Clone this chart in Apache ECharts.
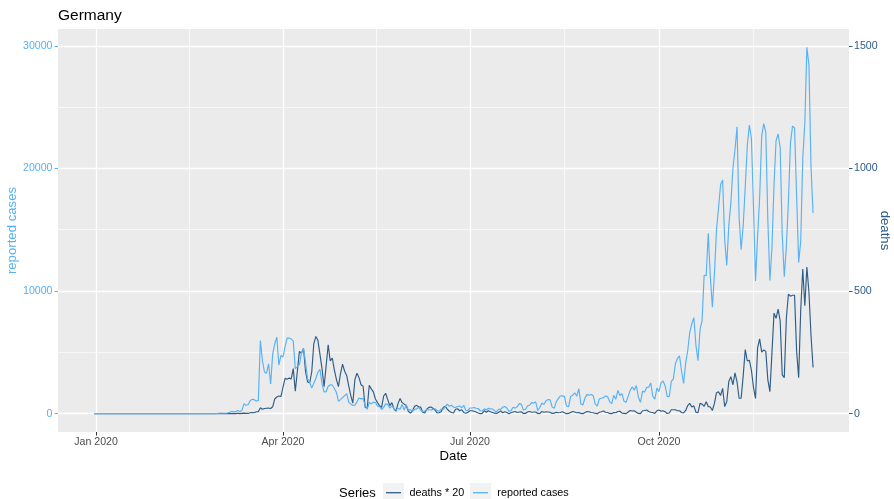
<!DOCTYPE html>
<html><head><meta charset="utf-8">
<script src="https://cdn.jsdelivr.net/npm/echarts@6/dist/echarts.min.js"></script>
<style>html,body{margin:0;padding:0;background:#fff}#c{width:894px;height:499px}</style>
</head><body><div id="c"></div>
<script>
// ---- data: daily values; the chart's dates run from 2019-12-31 (two leading zero days, then
//      the monthly blocks below, each value plotted the day after its report day) ----
const startDate = '2019-12-31';
const casesLead = [0,0];
const casesJan = [0,0,0,0,0,0,0,0,0,0,0,0,0,0,0,0,0,0,0,0,0,0,0,0,0,0,1,3,0,0,1];
const casesFeb = [2,0,2,1,0,2,1,0,0,0,0,0,0,0,0,0,0,0,0,0,0,0,0,0,2,8,10,21,33];
const casesMar = [56,33,38,52,109,185,150,163,265,157,271,802,693,733,1043,1174,1144,1042,1060,5965,4330,3380,3300,4060,2420,4880,5700,6240,3965,4751,4615];
const casesApr = [5453,6156,6174,6082,5936,3677,3834,4003,4974,5323,4133,2821,2537,2082,2486,2866,3380,3609,2458,1775,1785,2237,2352,2337,2055,1737,1018,1144,1304,1478];
const casesMay = [1639,945,793,679,685,947,1284,1209,1251,667,357,933,798,933,913,620,583,342,513,797,745,460,638,431,289,432,353,741,286,738,301];
const casesJun = [333,213,342,394,507,301,136,214,350,318,300,348,407,247,192,378,345,580,770,601,687,537,503,587,630,477,687,256,262,466];
const casesJul = [466,503,446,422,239,219,397,298,442,395,378,248,159,352,351,534,583,454,202,249,522,454,569,815,781,305,340,633,684,902,870];
const casesAug = [955,240,509,879,741,1045,1147,1122,555,436,966,1226,1445,1449,1415,625,561,1390,1510,1707,1427,2034,782,711,1278,1576,1507,1571,1479,785,610];
const casesSep = [1218,1256,1311,1453,1378,988,814,1499,1176,1892,1484,1630,1010,927,1407,1901,2194,1916,2297,1345,922,1821,1769,2143,2153,2507,1411,1192,2089,1798];
const casesOct = [2503,2673,2279,1410,1382,2639,2828,4058,4516,4721,3483,2467,4122,5132,6638,7334,7830,5587,4325,6868,7595,11287,11242,14714,11176,8685,11409,14964,16774,18681,19059];
const casesNov = [14177,12097,15352,17214,19990,21506,23399,16017,13363,15332,18487,21866,23542,22461,16947,10824,14419,17561,22609,23648,22964,15741,10864,13554,18633,22268,22806,21695,14611,11169];
const casesDec = [13604,17270,22046,23449,23318,17767,12332,14054,20815,23679,29875,28438,20200,16362];

const deathsLead = [0,0];
const deathsJan = [0,0,0,0,0,0,0,0,0,0,0,0,0,0,0,0,0,0,0,0,0,0,0,0,0,0,0,0,0,0,0];
const deathsFeb = [0,0,0,0,0,0,0,0,0,0,0,0,0,0,0,0,0,0,0,0,0,0,0,0,0,0,0,0,0];
const deathsMar = [0,0,0,0,0,0,0,0,2,0,1,2,1,1,4,5,4,8,8,24,18,21,22,23,21,28,60,68,72,70,107];
const deathsApr = [144,140,145,141,184,92,173,254,246,266,171,129,126,170,285,315,299,242,184,110,194,281,215,227,179,140,110,163,202,173];
const deathsMay = [156,113,74,43,139,165,147,118,112,26,22,116,101,89,60,45,33,26,72,83,57,33,45,20,10,41,62,45,39,33,10];
const deathsJun = [2,11,29,34,28,27,6,3,18,26,27,22,15,3,4,8,25,30,18,10,5,3,18,20,12,16,5,2,6,12];
const deathsJul = [12,10,7,3,0,1,12,6,12,8,5,2,1,6,11,4,8,5,0,4,7,9,5,7,8,1,1,7,9,6,7];
const deathsAug = [7,1,0,9,6,8,7,6,1,2,6,4,5,8,4,0,1,5,9,7,4,5,1,0,5,9,8,5,4,1,0];
const deathsSep = [6,8,11,6,5,1,0,5,4,9,10,2,1,0,7,13,11,12,6,1,0,12,13,15,9,6,5,1,12,15];
const deathsOct = [10,12,8,1,3,16,16,16,12,12,5,3,13,33,42,27,32,6,4,42,39,30,49,29,27,13,42,85,89,74,103];
const deathsNov = [29,49,131,151,118,166,130,63,63,154,261,215,218,178,107,62,267,305,251,260,254,138,90,249,410,389,426,379,158,147];
const deathsDec = [388,487,479,483,483,255,147,423,590,440,598,496,321,188];

const xTickDates = ['2020-01-01','2020-04-01','2020-07-01','2020-10-01'];
const xTickLabels = ['Jan 2020','Apr 2020','Jul 2020','Oct 2020'];
const xNextBreak = '2021-01-01';
const casesTicks = [0,10000,20000,30000];
const casesMinorTicks = [5000,15000,25000];
const deathsTicks = [0,500,1000,1500];
const deathsScale = 20;

// ---- build ----
const cases = [].concat(casesLead,casesJan,casesFeb,casesMar,casesApr,casesMay,casesJun,casesJul,casesAug,casesSep,casesOct,casesNov,casesDec);
const deaths = [].concat(deathsLead,deathsJan,deathsFeb,deathsMar,deathsApr,deathsMay,deathsJun,deathsJul,deathsAug,deathsSep,deathsOct,deathsNov,deathsDec);
const DAY = 86400000;
const toMs = s => Date.parse(s + 'T00:00:00Z');
const t0 = toMs(startDate);
const times = cases.map((_, i) => t0 + i * DAY);
const xPad = 0.05 * (times[times.length - 1] - times[0]);
const xMin = times[0] - xPad, xMax = times[times.length - 1] + xPad;
const majorX = xTickDates.map(toMs);
const allBreaks = majorX.concat([toMs(xNextBreak)]);
const minorX = allBreaks.slice(1).map((v, i) => (v + allBreaks[i]) / 2);
const yTop = Math.max(Math.max(...cases), Math.max(...deaths) * deathsScale);
const yMin = -0.05 * yTop, yMax = yTop * 1.05;

const CASES_COL = '#56B1F7';
const DEATHS_COL = '#2E5C88';
const FONT = '"Liberation Sans", Arial, Helvetica, sans-serif';

const chart = echarts.init(document.getElementById('c'), null, {renderer: 'canvas'});
chart.setOption({
  animation: false,
  backgroundColor: '#ffffff',
  textStyle: {fontFamily: FONT},
  title: [
    {text: 'Germany', left: 58, top: 7.5, padding: 0, textStyle: {fontSize: 15.5, fontWeight: 'normal', color: '#000', lineHeight: 16, fontFamily: FONT}},
    {text: 'Series', left: 339, top: 486, padding: 0, textStyle: {fontSize: 13, fontWeight: 'normal', color: '#000', lineHeight: 15, fontFamily: FONT}}
  ],
  graphic: [
    {type: 'rect', z: 0, shape: {x: 383, y: 483, width: 21, height: 16}, style: {fill: '#F2F2F2'}},
    {type: 'rect', z: 0, shape: {x: 470, y: 483, width: 21, height: 16}, style: {fill: '#F2F2F2'}}
  ],
  legend: [
    {data: ['deaths * 20'], left: 386, top: 485.7, padding: 0, icon: 'rect', itemWidth: 15, itemHeight: 1.3,
     textStyle: {fontSize: 10.8, color: '#000', lineHeight: 14, padding: [0,0,0,3.6], fontFamily: FONT}},
    {data: ['reported cases'], left: 473, top: 485.7, padding: 0, icon: 'rect', itemWidth: 15, itemHeight: 1.3,
     textStyle: {fontSize: 10.8, color: '#000', lineHeight: 14, padding: [0,0,0,4.3], fontFamily: FONT}}
  ],
  grid: {left: 58, right: 45, top: 29, bottom: 67, show: true, backgroundColor: '#EBEBEB', borderWidth: 0,
         containLabel: false, outerBoundsMode: 'none'},
  xAxis: [
    {type: 'value', min: xMin, max: xMax, name: 'Date', nameLocation: 'middle', nameGap: 18, nameMoveOverlap: false,
     nameTextStyle: {fontSize: 13.2, color: '#000', fontFamily: FONT},
     axisLine: {show: false, onZero: false},
     axisTick: {show: true, customValues: majorX, length: 3.5, lineStyle: {color: '#333333', width: 1}},
     axisLabel: {show: true, customValues: majorX, margin: 5, fontSize: 10.6, color: '#4D4D4D', fontFamily: FONT,
       formatter: v => { const i = majorX.indexOf(v); return i >= 0 ? xTickLabels[i] : ''; }},
     splitLine: {show: true, lineStyle: {color: '#FFFFFF', width: 1.3}}},
    {type: 'value', min: xMin, max: xMax, position: 'bottom',
     axisLine: {show: false, onZero: false},
     axisTick: {show: false, customValues: minorX},
     axisLabel: {show: false},
     splitLine: {show: true, lineStyle: {color: '#FFFFFF', width: 0.65}}}
  ],
  yAxis: [
    {type: 'value', min: yMin, max: yMax, position: 'left', name: 'reported cases', nameLocation: 'middle', nameGap: 39, nameMoveOverlap: false,
     nameTextStyle: {fontSize: 13.2, color: CASES_COL, fontFamily: FONT},
     axisLine: {show: false, onZero: false},
     axisTick: {show: true, customValues: casesTicks, length: 3.5, lineStyle: {color: CASES_COL, width: 1}},
     axisLabel: {show: true, customValues: casesTicks, margin: 5.5, fontSize: 10.6, color: CASES_COL, fontFamily: FONT, formatter: v => String(v)},
     splitLine: {show: true, lineStyle: {color: '#FFFFFF', width: 1.3}}},
    {type: 'value', min: yMin / deathsScale, max: yMax / deathsScale, position: 'right', name: 'deaths', nameLocation: 'middle', nameGap: 29, nameRotate: -90, nameMoveOverlap: false,
     nameTextStyle: {fontSize: 13.2, color: DEATHS_COL, fontFamily: FONT},
     axisLine: {show: false, onZero: false},
     axisTick: {show: true, customValues: deathsTicks, length: 3.5, lineStyle: {color: DEATHS_COL, width: 1}},
     axisLabel: {show: true, customValues: deathsTicks, margin: 5, fontSize: 10.6, color: DEATHS_COL, fontFamily: FONT, formatter: v => String(v)},
     splitLine: {show: false}},
    {type: 'value', min: yMin, max: yMax, position: 'left',
     axisLine: {show: false, onZero: false},
     axisTick: {show: false, customValues: casesMinorTicks},
     axisLabel: {show: false},
     splitLine: {show: true, lineStyle: {color: '#FFFFFF', width: 0.65}}}
  ],
  series: [
    {name: 'deaths * 20', type: 'line', xAxisIndex: 0, yAxisIndex: 1, showSymbol: false, symbol: 'none',
     data: deaths.map((v, i) => [times[i], v]), lineStyle: {color: DEATHS_COL, width: 1.15}, itemStyle: {color: DEATHS_COL}},
    {name: 'reported cases', type: 'line', xAxisIndex: 0, yAxisIndex: 0, showSymbol: false, symbol: 'none',
     data: cases.map((v, i) => [times[i], v]), lineStyle: {color: CASES_COL, width: 1.15}, itemStyle: {color: CASES_COL}}
  ]
});
</script></body></html>
